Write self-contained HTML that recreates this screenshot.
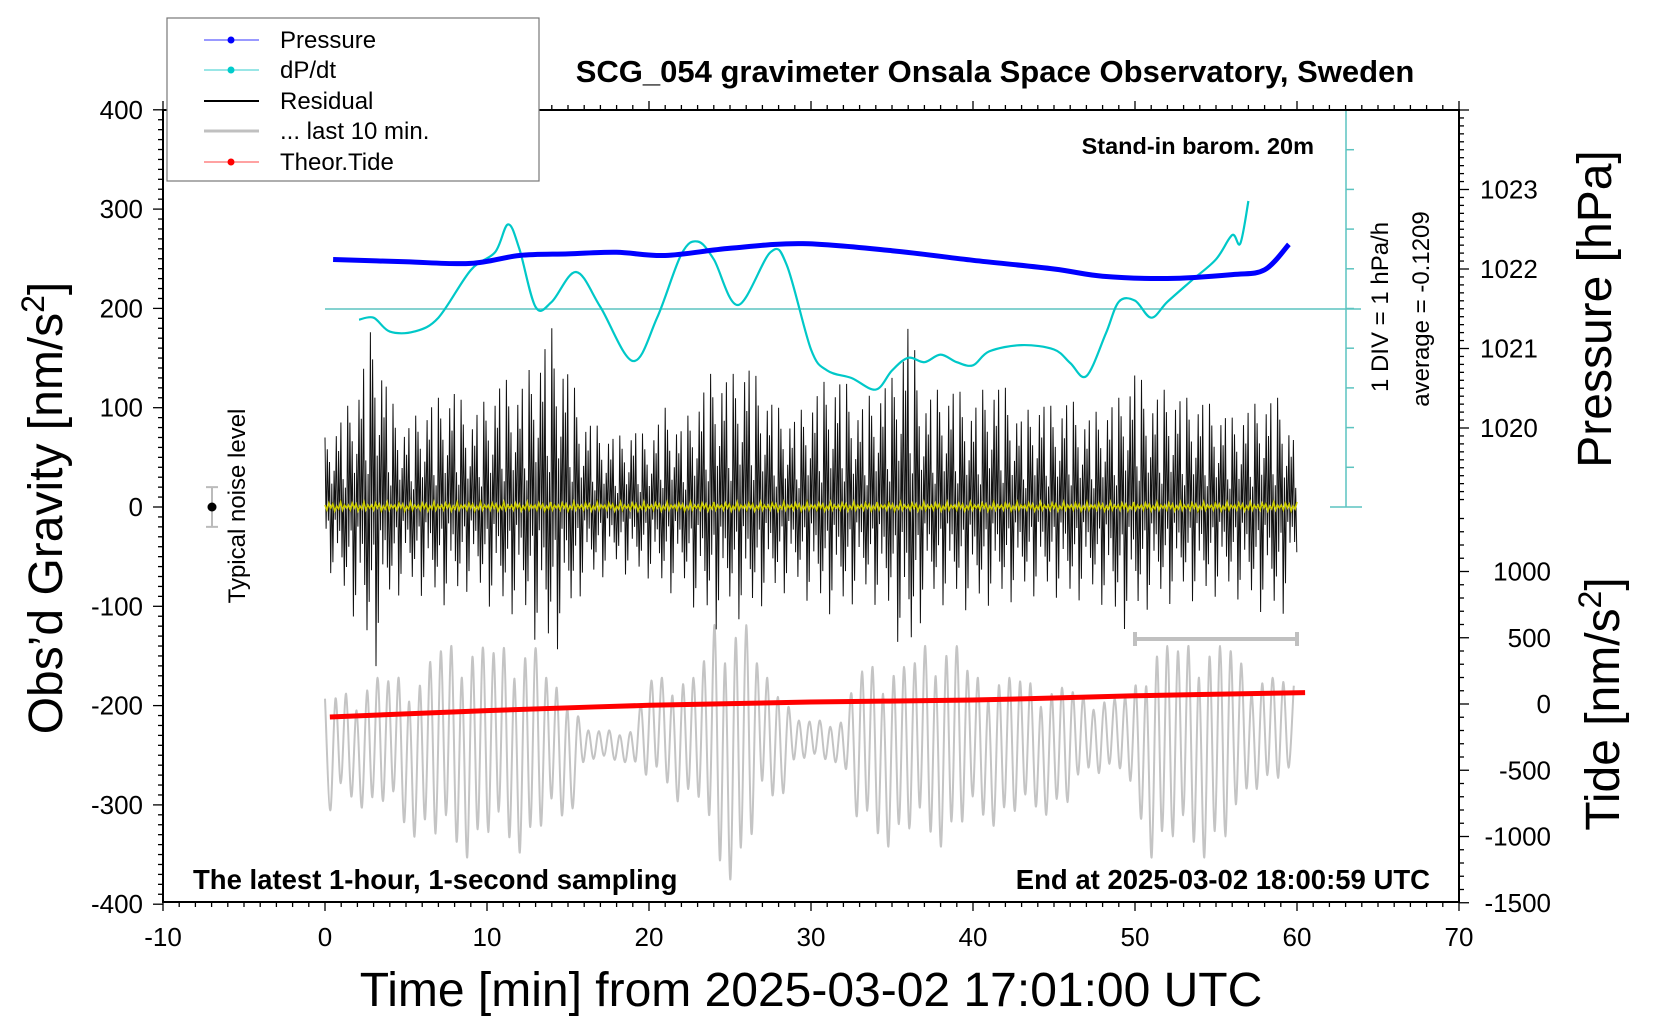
<!DOCTYPE html>
<html><head><meta charset="utf-8">
<style>
html,body{margin:0;padding:0;background:#fff;}
svg{display:block;font-family:"Liberation Sans",Arial,sans-serif;}
</style></head>
<body>
<svg id="chart" width="1660" height="1020" viewBox="0 0 1660 1020" xmlns="http://www.w3.org/2000/svg">
<rect width="1660" height="1020" fill="#fff"/>
<g id="marks"></g>
<g id="axes"></g>
<text x="995" y="82" text-anchor="middle" font-size="31" font-weight="bold">SCG_054 gravimeter Onsala Space Observatory, Sweden</text>
<text x="1314" y="154" text-anchor="end" font-size="23.5" font-weight="bold">Stand-in barom. 20m</text>
<text x="193" y="889" font-size="27.5" font-weight="bold">The latest 1-hour, 1-second sampling</text>
<text x="1430" y="889" text-anchor="end" font-size="27.5" font-weight="bold">End at 2025-03-02 18:00:59 UTC</text>
<text x="811" y="1006" text-anchor="middle" font-size="48">Time [min] from 2025-03-02 17:01:00 UTC</text>
<text transform="translate(62,508) rotate(-90)" text-anchor="middle" font-size="48">Obs’d Gravity [nm/s<tspan baseline-shift="super" font-size="32">2</tspan>]</text>
<text transform="translate(1611,309) rotate(-90)" text-anchor="middle" font-size="48">Pressure [hPa]</text>
<text transform="translate(1619,704) rotate(-90)" text-anchor="middle" font-size="48">Tide [nm/s<tspan baseline-shift="super" font-size="32">2</tspan>]</text>
<text transform="translate(1388,307) rotate(-90)" text-anchor="middle" font-size="24">1 DIV = 1 hPa/h</text>
<text transform="translate(1429,309) rotate(-90)" text-anchor="middle" font-size="24">average = -0.1209</text>
<text transform="translate(245,506) rotate(-90)" text-anchor="middle" font-size="24">Typical noise level</text>
<g>
<rect x="167" y="18" width="372" height="163" fill="#fff" stroke="#777" stroke-width="1.2"/>
<g><line x1="204" y1="40" x2="259" y2="40" stroke="#3333ff" stroke-width="1"/><circle cx="231" cy="40" r="3.5" fill="#0000ff"/><text x="280" y="48" font-size="24">Pressure</text></g>
<g><line x1="204" y1="70" x2="259" y2="70" stroke="#33cccc" stroke-width="1"/><circle cx="231" cy="70" r="3.5" fill="#00cccc"/><text x="280" y="78" font-size="24">dP/dt</text></g>
<g><line x1="204" y1="101" x2="259" y2="101" stroke="#000" stroke-width="2"/><text x="280" y="109" font-size="24">Residual</text></g>
<g><line x1="204" y1="131" x2="259" y2="131" stroke="#c0c0c0" stroke-width="3"/><text x="280" y="139" font-size="24">... last 10 min.</text></g>
<g><line x1="204" y1="162" x2="259" y2="162" stroke="#ff4444" stroke-width="1"/><circle cx="231" cy="162" r="3.5" fill="#ff0000"/><text x="280" y="170" font-size="24">Theor.Tide</text></g>
</g>
</svg>
<script>
// ---- data ----
const pressTimes = [0.5, 5, 9, 12, 15, 18, 21, 25, 29.5, 35, 40, 45, 48, 52, 56, 58, 59.5];
const pressValues = [1022.12, 1022.09, 1022.07, 1022.17, 1022.19, 1022.21, 1022.17, 1022.26, 1022.32, 1022.23, 1022.11, 1022.0, 1021.91, 1021.88, 1021.93, 1021.99, 1022.31];
const dpTimes = [2.1,3,4,5.5,7,9,10.5,11.3,12,13,14,15.5,17,19,20.5,22,23,24,25.5,27.5,28.5,30,31,32.5,34,35,36,37,38,39,40,41,43,45,46,47,48.2,49,50,51,52,53.5,55,56,56.5,57];
const dpValues = [-0.39,-0.34,-0.69,-0.69,-0.34,0.86,1.31,2.01,1.39,-0.07,0.06,0.81,-0.07,-1.43,-0.34,1.26,1.58,1.13,-0.02,1.31,0.99,-1.14,-1.67,-1.86,-2.15,-1.67,-1.35,-1.46,-1.27,-1.46,-1.54,-1.19,-1.03,-1.14,-1.48,-1.81,-0.74,0.06,0.09,-0.34,0.06,0.60,1.13,1.74,1.53,2.60];
const dpAverage = -0.1209;
const tideTimes = [0.3, 10, 20, 30, 40, 50, 60.5];
const tideValues = [-98, -50, -10, 15, 30, 62, 86];
const residTop = [70,90,120,190,110,80,100,110,120,90,110,130,120,150,180,140,90,80,70,80,70,100,80,110,140,130,150,120,100,90,110,130,130,100,120,130,190,110,120,120,100,130,120,90,110,100,110,90,100,110,140,110,120,110,110,100,90,100,110,110,60];
const residBottom = [-60,-100,-130,-190,-110,-90,-100,-110,-110,-90,-110,-120,-120,-150,-175,-130,-90,-80,-70,-80,-80,-100,-90,-120,-140,-120,-130,-110,-100,-90,-110,-120,-120,-100,-110,-130,-190,-110,-110,-110,-120,-110,-110,-100,-100,-100,-110,-100,-110,-140,-130,-110,-110,-100,-110,-100,-100,-110,-120,-130,-60];
const residPattern = [1,0.35,0.8,0.2,0.6,0.9,0.3,0.7,0.45,0.15,0.85,0.4,0.65,0.25,0.95,0.5,0.3,0.75,0.2,0.55];
const grayTop = [-193,-188,-188,-172,-172,-172,-172,-140,-140,-140,-142,-142,-142,-142,-182,-182,-225,-225,-225,-225,-172,-172,-172,-172,-119,-119,-119,-172,-172,-215,-215,-215,-215,-161,-161,-161,-161,-140,-140,-140,-172,-172,-172,-172,-182,-182,-182,-193,-193,-193,-182,-140,-140,-140,-140,-140,-140,-172,-172,-172,-182];
const grayBottom = [-327,-300,-300,-310,-310,-332,-332,-353,-353,-353,-348,-348,-348,-348,-321,-321,-257,-257,-257,-257,-284,-284,-300,-300,-375,-375,-375,-300,-300,-257,-257,-257,-257,-342,-342,-342,-342,-342,-342,-342,-321,-321,-321,-321,-310,-310,-310,-268,-268,-268,-310,-353,-353,-353,-353,-353,-353,-284,-284,-284,-284];
const grayPeriod = 0.65;
const grayPattern = [1,0.8,0.95,0.6,1,0.85,0.7,1,0.9,0.75];
const yellowPattern = [2,-3,4,-1,3,-4,1,-2,5,-3,2,-1];
const xTicks = [-10,0,10,20,30,40,50,60,70];
const yTicks = [400,300,200,100,0,-100,-200,-300,-400];
const pTicks = [1023,1022,1021,1020];
const tTicks = [1000,500,0,-500,-1000,-1500];

// ---- scales ----
const X = t => 325 + t*16.2;
const Y = g => 507 - g*0.993;
const YP = p => 269 - (p-1022)*79.5;
const YD = v => 309 - (v-dpAverage)*39.7;
const YT = v => 704 - v*0.1325;
const NS = "http://www.w3.org/2000/svg";
const marks = document.getElementById('marks');
const axes = document.getElementById('axes');
function mk(tag, attrs, parent){const e=document.createElementNS(NS,tag);for(const k in attrs)e.setAttribute(k,attrs[k]);parent.appendChild(e);return e;}
function lerp(arr, t){const i=Math.max(0,Math.min(arr.length-2,Math.floor(t)));const f=Math.min(1,Math.max(0,t-i));return arr[i]*(1-f)+arr[i+1]*f;}
function smooth(pts){let d=`M${pts[0][0]},${pts[0][1]}`;for(let i=0;i<pts.length-1;i++){const p0=pts[i-1]||pts[i],p1=pts[i],p2=pts[i+1],p3=pts[i+2]||p2;const c1=[p1[0]+(p2[0]-p0[0])/6,p1[1]+(p2[1]-p0[1])/6],c2=[p2[0]-(p3[0]-p1[0])/6,p2[1]-(p3[1]-p1[1])/6];d+=` C${c1[0].toFixed(1)},${c1[1].toFixed(1)} ${c2[0].toFixed(1)},${c2[1].toFixed(1)} ${p2[0].toFixed(1)},${p2[1].toFixed(1)}`;}return d;}

// gray last-10-min trace
const gpts=[];let k=0;
for(let t=0;t<=60;t+=grayPeriod/2){const mid=(lerp(grayTop,t)+lerp(grayBottom,t))/2;const half=(lerp(grayTop,t)-lerp(grayBottom,t))/2*grayPattern[k%grayPattern.length];const v=(k%2===0)?mid+half:mid-half;gpts.push([X(t),Y(v)]);k++;}
const gray=mk('path',{d:smooth(gpts),fill:'none',stroke:'#c4c4c4','stroke-width':2},marks);



// residual
let rd='';k=0;
for(let t=0;t<=60;t+=0.07){const f=residPattern[k%residPattern.length];const v=(k%2===0)?lerp(residTop,t)*f:lerp(residBottom,t)*f;rd+=(k?'L':'M')+X(t).toFixed(1)+','+Y(v).toFixed(1);k++;}
const resid=mk('path',{d:rd,fill:'none',stroke:'#111','stroke-width':1},marks);



// yellow smoothed residual
let yd='';k=0;
for(let t=0;t<=60;t+=0.12){const v=yellowPattern[k%yellowPattern.length];yd+=(k?'L':'M')+X(t).toFixed(1)+','+Y(v).toFixed(1);k++;}
const yel=mk('path',{d:yd,fill:'none',stroke:'#cccc00','stroke-width':1.6},marks);



// tide
const tideLine=mk('path',{d:smooth(tideTimes.map((t,i)=>[X(t),YT(tideValues[i])])),fill:'none',stroke:'#ff0000','stroke-width':5},marks);



// dP/dt average line & scale
const avgLine=mk('line',{x1:X(0),y1:YD(dpAverage),x2:1361,y2:YD(dpAverage),stroke:'#5cc4c0','stroke-width':1.5},marks);


const sc=mk('line',{x1:1346,y1:110,x2:1346,y2:507,stroke:'#5cc4c0','stroke-width':1.5},marks);


for(let i=0;i<=10;i++){const y=110+i*39.7;const w=(i===0||i===10)?16:0;mk('line',{x1:1346-w,y1:y,x2:1346+(w||8),y2:y,stroke:'#5cc4c0','stroke-width':1.5},marks);}
const dp=mk('path',{d:smooth(dpTimes.map((t,i)=>[X(t),YD(dpValues[i])])),fill:'none',stroke:'#00c8c8','stroke-width':2.2},marks);



// pressure
const pr=mk('path',{d:smooth(pressTimes.map((t,i)=>[X(t),YP(pressValues[i])])),fill:'none',stroke:'#0000ff','stroke-width':5},marks);



// noise level marker
mk('line',{x1:212,y1:Y(20),x2:212,y2:Y(-20),stroke:'#bbb','stroke-width':2},marks);
mk('line',{x1:206,y1:Y(20),x2:218,y2:Y(20),stroke:'#bbb','stroke-width':2},marks);
mk('line',{x1:206,y1:Y(-20),x2:218,y2:Y(-20),stroke:'#bbb','stroke-width':2},marks);
const nd=mk('circle',{cx:212,cy:Y(0),r:4.5,fill:'#000'},marks);



// last 10 min bar
const lb=mk('g',{},marks);


mk('line',{x1:X(50),y1:639,x2:X(60),y2:639,stroke:'#c0c0c0','stroke-width':4},lb);
mk('line',{x1:X(50),y1:632,x2:X(50),y2:646,stroke:'#c0c0c0','stroke-width':4},lb);
mk('line',{x1:X(60),y1:632,x2:X(60),y2:646,stroke:'#c0c0c0','stroke-width':4},lb);

// axes frame
mk('rect',{x:163,y:110,width:1296,height:792,fill:'none',stroke:'#000','stroke-width':2},axes);
for(let m=-10;m<=70;m++){const x=X(m);const maj=m%10===0;mk('line',{x1:x,y1:902,x2:x,y2:902+(maj?9:5),stroke:'#000','stroke-width':1.3},axes);mk('line',{x1:x,y1:110,x2:x,y2:110-(maj?9:5),stroke:'#000','stroke-width':1.3},axes);}
xTicks.forEach(v=>{const t=mk('text',{x:X(v),y:946,'text-anchor':'middle','font-size':26},axes);t.textContent=v;});
for(let g=-400;g<=400;g+=10){const y=Y(g);const maj=g%100===0;mk('line',{x1:163,y1:y,x2:163-(maj?10:5),y2:y,stroke:'#000','stroke-width':1.3},axes);}
yTicks.forEach(v=>{const t=mk('text',{x:143,y:Y(v)+9,'text-anchor':'end','font-size':26},axes);t.textContent=v;});
for(let i=-30;i<=60;i++){const p=1022+i/10;const y=YP(p);if(y<110||y>505)continue;const maj=i%10===0;mk('line',{x1:1459,y1:y,x2:1459+(maj?10:5),y2:y,stroke:'#000','stroke-width':1.3},axes);}
pTicks.forEach(v=>{const t=mk('text',{x:1480,y:YP(v)+9,'font-size':26},axes);t.textContent=v;});
for(let v=-1500;v<=1400;v+=100){const y=YT(v);const maj=v%500===0;mk('line',{x1:1459,y1:y,x2:1459+(maj?10:5),y2:y,stroke:'#000','stroke-width':1.3},axes);}
tTicks.forEach(v=>{const t=mk('text',{x:1551,y:YT(v)+9,'text-anchor':'end','font-size':26},axes);t.textContent=v;});
</script>
</body></html>
